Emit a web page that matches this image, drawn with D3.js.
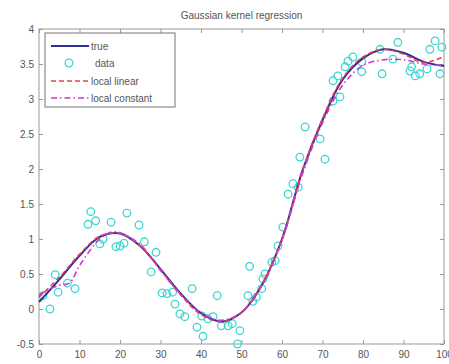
<!DOCTYPE html>
<html>
<head>
<meta charset="utf-8">
<script src="https://cdn.jsdelivr.net/npm/d3@7"></script>
<style>
  body { margin: 0; background: #fff; }
  text { font-family: "Liberation Sans", Arial, sans-serif; fill: #555; }
</style>
</head>
<body>
<div id="chart"></div>
<script>
// values
var dataX = [1, 2.7, 4, 4.7, 7, 8.9, 12.1, 12.8, 14, 15, 15.8, 17.8, 19, 20, 21, 21.7,
  24.7, 26, 27.7, 28.9, 30.4, 31.6, 33, 33.6, 34.8, 36, 37.8, 39, 40.2, 40.5, 41.7, 43,
  44, 45, 46.7, 47.7, 49, 49.6, 51.6, 52, 52.8, 53.7, 55, 55.3, 55.8, 57.5, 58.3, 59,
  60.2, 61.5, 62.7, 64, 64.4, 65.7, 69.4, 70.6, 72.6, 72.6, 73.8, 74.3, 75.6, 76.3, 77.5,
  79.7, 79.7, 84.2, 84.7, 87.4, 88.6, 91.6, 92, 92.9, 94, 95.8, 96.5, 97.8, 99.5, 99];
var dataY = [0.19, 0.0, 0.49, 0.24, 0.37, 0.29, 1.21, 1.39, 1.26, 0.93, 1.0, 1.24, 0.89, 0.9, 0.94, 1.37,
  1.2, 0.96, 0.53, 0.81, 0.23, 0.22, 0.24, 0.07, -0.07, -0.11, 0.29, -0.26, -0.1, -0.39, -0.14, -0.11,
  0.19, -0.24, -0.24, -0.21, -0.5, -0.31, 0.19, 0.61, 0.11, 0.17, 0.29, 0.43, 0.5, 0.67, 0.69, 0.9,
  1.17, 1.64, 1.79, 1.74, 2.17, 2.6, 2.43, 2.14, 2.97, 3.26, 3.33, 3.03, 3.46, 3.54, 3.6,
  3.39, 3.53, 3.71, 3.36, 3.57, 3.81, 3.4, 3.46, 3.33, 3.36, 3.43, 3.71, 3.83, 3.74, 3.36];

var gridX = [0, 5, 10, 15, 20, 25, 30, 35, 40, 45, 50, 55, 60, 65, 70, 75, 80, 85, 90, 95, 100];
var trueY = [0.10, 0.42, 0.76, 1.03, 1.08, 0.90, 0.57, 0.22, -0.06, -0.18, -0.05, 0.34, 1.00, 1.97, 2.70, 3.28, 3.58, 3.71, 3.66, 3.53, 3.47];
var linY  = [0.17, 0.45, 0.78, 1.04, 1.08, 0.90, 0.56, 0.20, -0.08, -0.18, -0.05, 0.35, 1.00, 1.97, 2.72, 3.30, 3.60, 3.71, 3.64, 3.52, 3.61];

var constX = [0, 2.5, 5, 7.5, 10, 15, 18, 20, 25, 30, 35, 40, 45, 50, 55, 60, 65, 70, 75, 80, 85, 90, 95, 100];
var constY = [0.20, 0.28, 0.34, 0.37, 0.62, 1.00, 1.10, 1.09, 0.92, 0.55, 0.21, -0.06, -0.16, -0.05, 0.33, 0.98, 1.92, 2.66, 3.20, 3.48, 3.56, 3.56, 3.50, 3.48];

var xTicks = [0, 10, 20, 30, 40, 50, 60, 70, 80, 90, 100];
var yTicks = [-0.5, 0, 0.5, 1, 1.5, 2, 2.5, 3, 3.5, 4];
var legendLabels = ["true", "data", "local linear", "local constant"];

(function() {
  var W = 449, H = 364;
  var pL = 39, pR = 444, pT = 29, pB = 344;

  var svg = d3.select("#chart").append("svg")
    .attr("width", W).attr("height", H);

  var x = d3.scaleLinear().domain([0, 100]).range([pL, pR]);
  var y = d3.scaleLinear().domain([-0.5, 4]).range([pB, pT]);

  var axisCol = "#999";

  // frame
  svg.append("rect")
    .attr("x", pL).attr("y", pT)
    .attr("width", pR - pL).attr("height", pB - pT)
    .attr("fill", "none").attr("stroke", axisCol).attr("stroke-width", 1);

  function fmt(d) { return String(d); }

  var xAxisB = svg.append("g").attr("transform", "translate(0," + pB + ")")
    .call(d3.axisBottom(x).tickValues(xTicks).tickSize(-4).tickPadding(7).tickFormat(fmt));
  var xAxisT = svg.append("g").attr("transform", "translate(0," + pT + ")")
    .call(d3.axisTop(x).tickValues(xTicks).tickSize(-4).tickFormat(""));
  var yAxisL = svg.append("g").attr("transform", "translate(" + pL + ",0)")
    .call(d3.axisLeft(y).tickValues(yTicks).tickSize(-4).tickPadding(5).tickFormat(fmt));
  var yAxisR = svg.append("g").attr("transform", "translate(" + pR + ",0)")
    .call(d3.axisRight(y).tickValues(yTicks).tickSize(-4).tickFormat(""));

  [xAxisB, xAxisT, yAxisL, yAxisR].forEach(function(g) {
    g.select(".domain").remove();
    g.selectAll("line").attr("stroke", axisCol);
    g.selectAll("text").style("font-size", "10px").attr("fill", "#555");
  });

  var plot = svg.append("g");
  var line = d3.line().curve(d3.curveCatmullRom);
  var cols = { truth: "#2e2e9c", data: "#3fd6cf", lin: "#e8404a", cons: "#cc3acc" };

  // data points
  plot.selectAll("circle.pt")
    .data(dataX.map(function(d, i) { return [d, dataY[i]]; }))
    .enter().append("circle")
    .attr("class", "pt")
    .attr("cx", function(d) { return x(d[0]); })
    .attr("cy", function(d) { return y(d[1]); })
    .attr("r", 3.8)
    .attr("fill", "none")
    .attr("stroke", cols.data)
    .attr("stroke-width", 1.3);

  plot.append("path")
    .attr("d", line(gridX.map(function(d, i) { return [x(d), y(trueY[i])]; })))
    .attr("fill", "none").attr("stroke", cols.truth).attr("stroke-width", 2);

  plot.append("path")
    .attr("d", line(gridX.map(function(d, i) { return [x(d), y(linY[i])]; })))
    .attr("fill", "none").attr("stroke", cols.lin).attr("stroke-width", 1.6)
    .attr("stroke-dasharray", "5,3");

  plot.append("path")
    .attr("d", line(constX.map(function(d, i) { return [x(d), y(constY[i])]; })))
    .attr("fill", "none").attr("stroke", cols.cons).attr("stroke-width", 1.6)
    .attr("stroke-dasharray", "6,3,1.5,3");

  // title
  svg.append("text")
    .attr("x", (pL + pR) / 2).attr("y", 19)
    .attr("text-anchor", "middle")
    .style("font-size", "10px")
    .text("Gaussian kernel regression");

  // legend
  var lg = svg.append("g");
  lg.append("rect")
    .attr("x", 45).attr("y", 33).attr("width", 130).attr("height", 74)
    .attr("fill", "#fff").attr("stroke", "#777").attr("stroke-width", 1);

  var rowY = [46, 63, 81, 98];
  legendLabels.forEach(function(lab, i) {
    var yy = rowY[i];
    if (i === 1) {
      lg.append("circle").attr("cx", 69).attr("cy", yy).attr("r", 3.8)
        .attr("fill", "none").attr("stroke", cols.data).attr("stroke-width", 1.3);
    } else {
      var st = i === 0 ? cols.truth : (i === 2 ? cols.lin : cols.cons);
      var ln = lg.append("line").attr("x1", 51).attr("x2", 89)
        .attr("y1", yy).attr("y2", yy)
        .attr("stroke", st).attr("stroke-width", i === 0 ? 2 : 1.6);
      if (i === 2) ln.attr("stroke-dasharray", "5,3");
      if (i === 3) ln.attr("stroke-dasharray", "6,3,1.5,3");
    }
    lg.append("text")
      .attr("x", i === 1 ? 95 : 91).attr("y", yy + 3.5)
      .style("font-size", "10px")
      .text(lab);
  });
})();
</script>
</body>
</html>
